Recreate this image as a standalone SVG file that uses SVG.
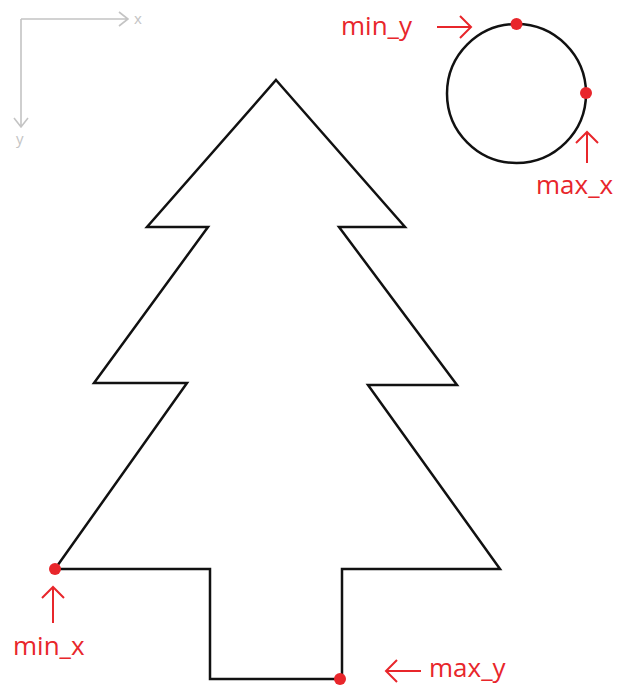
<svg xmlns="http://www.w3.org/2000/svg" width="619" height="686" viewBox="0 0 619 686">
<style>
.shape{fill:none;stroke:#111;stroke-width:2.5;stroke-linejoin:miter}
.axis{fill:none;stroke:#c4c4c4;stroke-width:1.6}
.axt{font-family:"Open Sans",sans-serif;font-size:15px;fill:#c4c4c4}
.red{fill:none;stroke:#e8262b;stroke-width:2}
.lbl{font-family:"Open Sans",sans-serif;font-size:26px;fill:#e8262b}
.dot{fill:#e8262b}
</style>
<rect width="619" height="686" fill="#fff"/>
<g id="axes">
<path class="axis" d="M21 19H128M119 12L128 19L119 26M21 19V127M14 118L21 127L28 118"/>
<text class="axt" x="134" y="24">x</text>
<text class="axt" x="16" y="144">y</text>
</g>
<g id="tree">
<path class="shape" d="M276 80L405 227H339L457 385H368L500 569H342V679H210V569H55L187 383H94L208 227H147Z"/>
</g>
<g id="circle">
<circle class="shape" cx="516.5" cy="93.5" r="69.5"/>
</g>
<g id="connectors">
<path class="red" d="M437 27H471M460 16L471 27L460 38"/>
<path class="red" d="M587 163V132M576 143L587 132L598 143"/>
<path class="red" d="M53 623V587M42 598L53 587L64 598"/>
<path class="red" d="M421 671H386M397 660L386 671L397 682"/>
</g>
<g id="points">
<circle class="dot" cx="516.5" cy="24" r="6"/>
<circle class="dot" cx="586" cy="93" r="6"/>
<circle class="dot" cx="55" cy="569" r="6"/>
<circle class="dot" cx="340" cy="679" r="6"/>
</g>
<g id="labels">
<text class="lbl" x="341" y="35">min_y</text>
<text class="lbl" x="536" y="194">max_x</text>
<text class="lbl" x="13" y="655">min_x</text>
<text class="lbl" x="429" y="677">max_y</text>
</g>
</svg>
